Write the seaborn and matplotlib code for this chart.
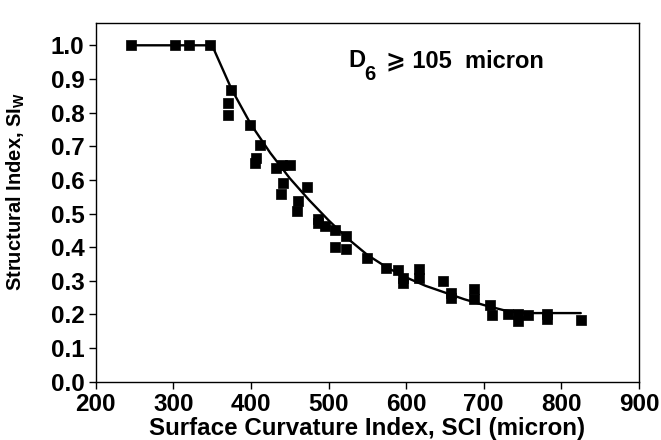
import numpy as np
import pandas as pd
import matplotlib
matplotlib.use("Agg")
import matplotlib.pyplot as plt
import seaborn as sns

# measured points (SCI in micron, structural index)
sci = [245, 302, 320, 347, 375, 370, 370, 399, 412, 406, 405, 432, 440, 450,
       441, 439, 472, 461, 459, 486, 486, 495, 508, 523, 508, 523, 549, 574,
       590, 596, 596, 617, 617, 648, 658, 658, 688, 688, 708, 710, 731, 744,
       744, 757, 781, 781, 825]
si_w = [1.0, 1.0, 1.0, 1.0, 0.868, 0.828, 0.794, 0.764, 0.705, 0.665, 0.65,
        0.635, 0.645, 0.645, 0.59, 0.557, 0.58, 0.537, 0.507, 0.484, 0.473,
        0.463, 0.45, 0.433, 0.40, 0.393, 0.368, 0.338, 0.333, 0.308, 0.293,
        0.336, 0.308, 0.298, 0.264, 0.249, 0.277, 0.247, 0.227, 0.199, 0.201,
        0.201, 0.18, 0.199, 0.2, 0.187, 0.184]

# fitted curve as drawn
fit_x = [245, 350, 375, 400, 425, 450, 475, 500, 525, 550, 575, 600, 625,
         650, 675, 700, 725, 750, 825]
fit_y = [1.0, 1.0, 0.87, 0.765, 0.68, 0.605, 0.54, 0.48, 0.425, 0.377, 0.34,
         0.31, 0.285, 0.265, 0.245, 0.228, 0.213, 0.204, 0.204]

yticks = [0.0, 0.1, 0.2, 0.3, 0.4, 0.5, 0.6, 0.7, 0.8, 0.9, 1.0]
xticks = [200, 300, 400, 500, 600, 700, 800, 900]

df = pd.DataFrame({"SCI": sci, "SI": si_w})
fit = pd.DataFrame({"SCI": fit_x, "SI": fit_y})

sns.set_style("ticks")
plt.rcParams["font.family"] = ["Liberation Sans", "DejaVu Sans"]
plt.rcParams["font.weight"] = "bold"
plt.rcParams["text.color"] = "black"
plt.rcParams["axes.labelcolor"] = "black"
plt.rcParams["mathtext.fontset"] = "custom"
plt.rcParams["mathtext.rm"] = "Liberation Sans:bold"
plt.rcParams["mathtext.it"] = "Liberation Sans:bold"
plt.rcParams["mathtext.bf"] = "Liberation Sans:bold"

fig = plt.figure(figsize=(6.61, 4.4), dpi=100)
ax = fig.add_axes([0.1447, 0.1325, 0.822, 0.815])

sns.lineplot(data=fit, x="SCI", y="SI", ax=ax, color="black", lw=1.7,
             sort=False, estimator=None)
sns.scatterplot(data=df, x="SCI", y="SI", ax=ax, marker="s", s=42,
                color="black", edgecolor="black", linewidth=0.5, zorder=3)

ax.set_xlim(200, 900)
ax.set_ylim(0, 1.066)
ax.set_xticks(xticks)
ax.set_yticks(yticks)
ax.set_yticklabels([f"{v:.1f}" for v in yticks])
ax.tick_params(labelsize=17.5, length=5, width=1, colors="black", pad=3)
for lab in ax.get_xticklabels() + ax.get_yticklabels():
    lab.set_fontweight("bold")
for sp in ax.spines.values():
    sp.set_visible(True)
    sp.set_linewidth(1)
    sp.set_color("black")

ax.set_xlabel("Surface Curvature Index, SCI (micron)", fontsize=17.4,
              fontweight="bold", labelpad=1)
ax.set_ylabel(r"Structural Index, SI$_\mathregular{W}$", fontsize=14.5,
              fontweight="bold")
ax.yaxis.set_label_coords(-0.126, 0.53)

# D6 >= 105 micron, subscript dropped well below the baseline
fam = ["Liberation Sans", "DejaVu Sans"]
ax.text(0.4646, 0.877, "D", transform=ax.transAxes, fontsize=17,
        fontweight="bold", va="baseline", family=fam)
ax.text(0.494, 0.842, "6", transform=ax.transAxes, fontsize=14.5,
        fontweight="bold", va="baseline", family=fam)
ax.text(0.534, 0.877, "\u2a7e 105  micron", transform=ax.transAxes,
        fontsize=17, fontweight="bold", va="baseline", family=fam)

fig.savefig("out.png", dpi=100)
